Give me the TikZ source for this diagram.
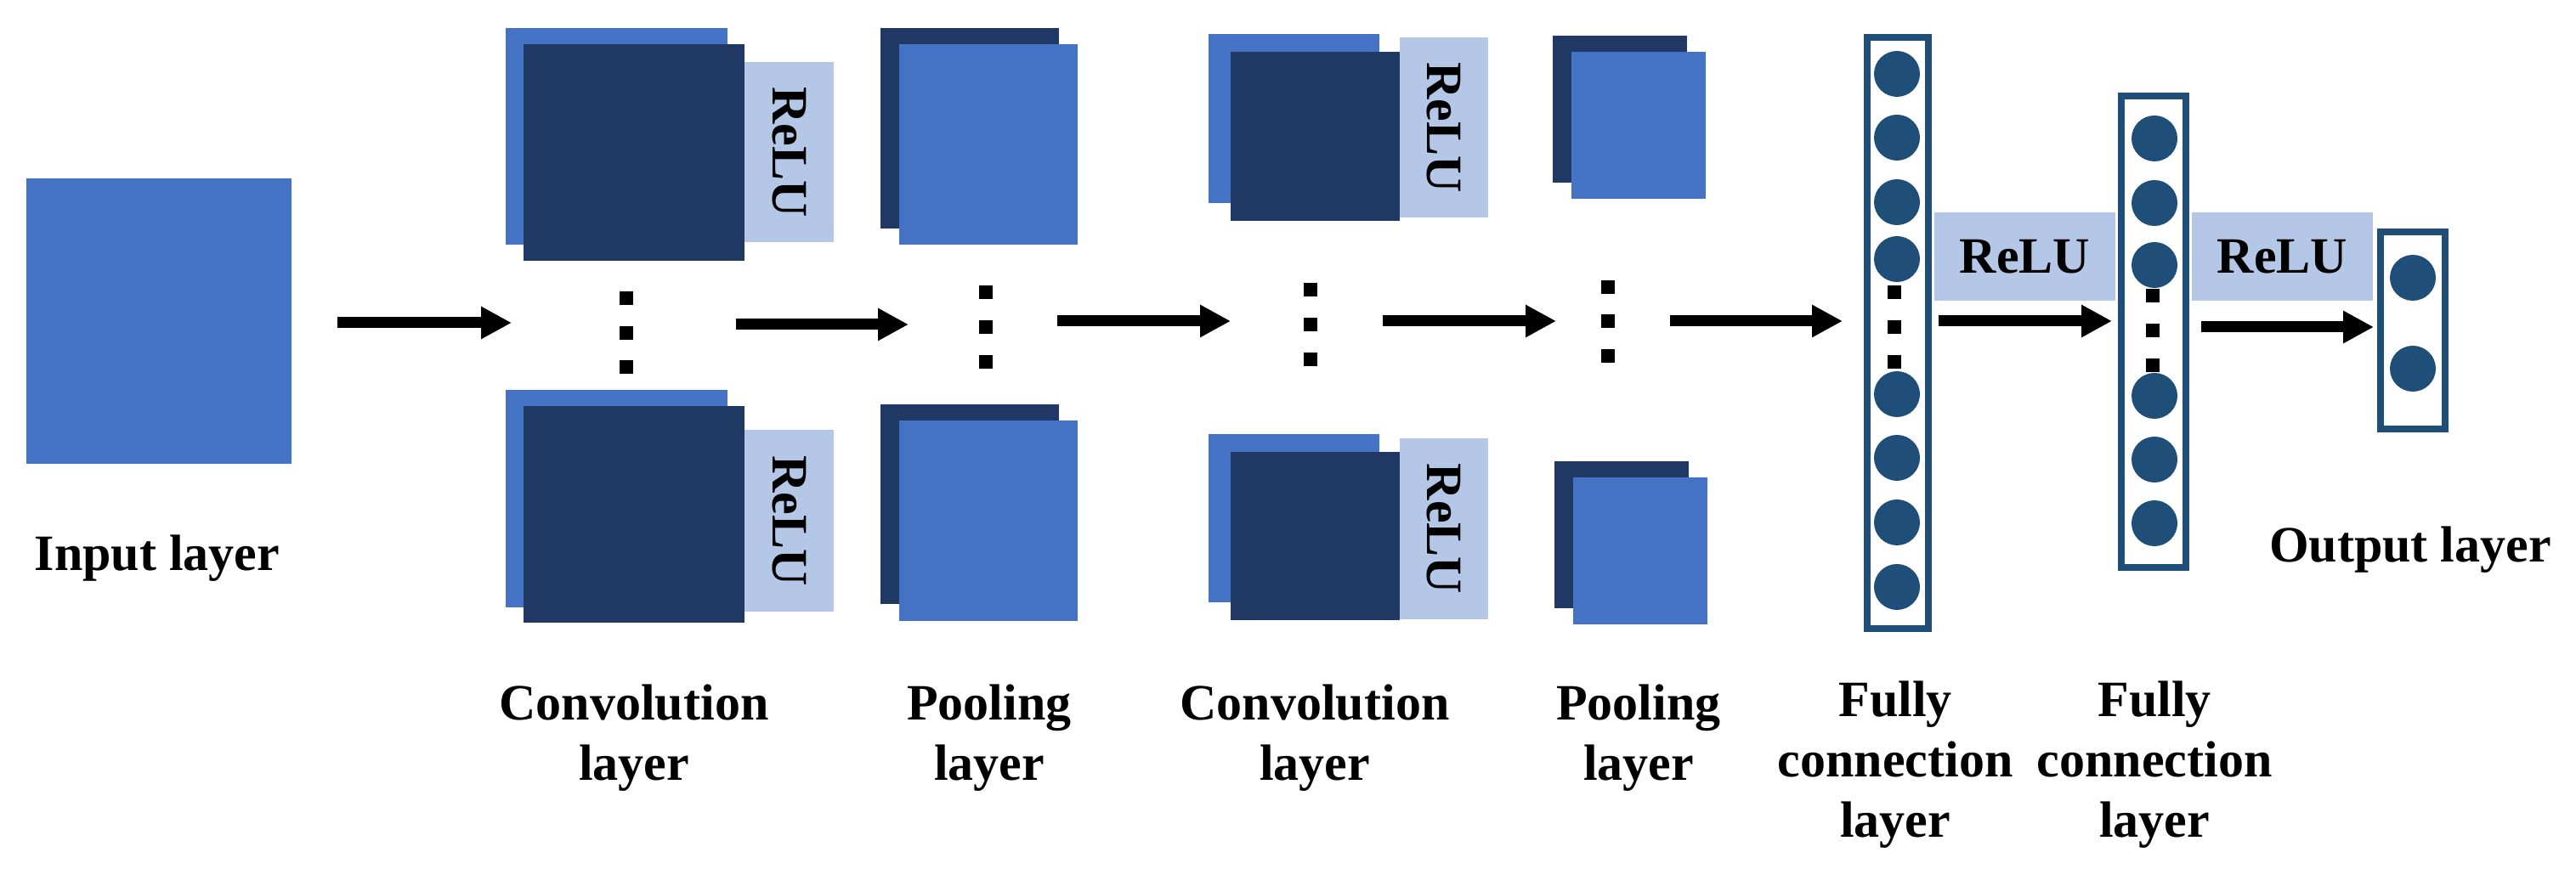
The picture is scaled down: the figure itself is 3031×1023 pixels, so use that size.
\documentclass[tikz,border=0pt]{standalone}
\usepackage{fontspec}
\setmainfont{Liberation Serif}
\usetikzlibrary{arrows.meta}
\definecolor{lb}{HTML}{4472C4}
\definecolor{db}{HTML}{203864}
\definecolor{rl}{HTML}{B4C7E7}
\definecolor{cc}{HTML}{1F4E79}
\newcommand\rect[6]{\node[#2, minimum width={(#5-#3)*0.25pt}, minimum height={(#6-#4)*0.25pt}] (#1) at ({(#3+#5)/2},{(#4+#6)/2}) {};}
\begin{document}
\begin{tikzpicture}[x=0.25pt,y=-0.25pt,
  box/.style={inner sep=0pt, outer sep=0pt, draw=none},
  L/.style={box, fill=lb}, D/.style={box, fill=db}, R/.style={box, fill=rl},
  fc/.style={inner sep=0pt, outer sep=0pt, draw=cc, line width=2pt, fill=white},
  neu/.style={circle, fill=cc, inner sep=0pt, minimum size=13.5pt},
  dot/.style={fill=black, inner sep=0pt, minimum size=4pt},
  arr/.style={line width=3.25pt, -{Triangle[length=9pt,width=9pt]}},
  lab/.style={font=\bfseries\fontsize{15}{17.75}\selectfont, align=center, text depth=0pt},
  rtxt/.style={font=\bfseries\fontsize{15}{18}\selectfont}]
\useasboundingbox (0,0) rectangle (3031,1023);
% input
\rect{in}{L}{31}{210}{343}{546}
% conv1
\rect{c1tb}{L}{595}{33}{856}{288}
\rect{c1tf}{D}{616}{52}{876}{307}
\rect{c1tr}{R}{876}{73}{981}{285}
\rect{c1bb}{L}{595}{459}{856}{715}
\rect{c1bf}{D}{616}{478}{876}{733}
\rect{c1br}{R}{876}{506}{981}{720}
\node[rtxt, rotate=-90] at (c1tr) {ReLU};
\node[rtxt, rotate=-90] at (c1br) {ReLU};
\node[dot] (d1a) at (737,351) {}; \node[dot] (d1b) at (737,392) {}; \node[dot] (d1c) at (737,432) {};
% pool1
\rect{p1tb}{D}{1036}{33}{1246}{269}
\rect{p1tf}{L}{1058}{52}{1268}{288}
\rect{p1bb}{D}{1036}{476}{1246}{711}
\rect{p1bf}{L}{1058}{495}{1268}{731}
\node[dot] (d2a) at (1160,344) {}; \node[dot] (d2b) at (1160,385) {}; \node[dot] (d2c) at (1160,426) {};
% conv2
\rect{c2tb}{L}{1422}{40}{1623}{239}
\rect{c2tf}{D}{1448}{61}{1647}{260}
\rect{c2tr}{R}{1647}{44}{1751}{256}
\rect{c2bb}{L}{1422}{511}{1623}{709}
\rect{c2bf}{D}{1448}{532}{1647}{730}
\rect{c2br}{R}{1647}{516}{1751}{729}
\node[rtxt, rotate=-90] at (c2tr) {ReLU};
\node[rtxt, rotate=-90] at (c2br) {ReLU};
\node[dot] (d3a) at (1542,341) {}; \node[dot] (d3b) at (1542,382) {}; \node[dot] (d3c) at (1542,423) {};
% pool2
\rect{p2tb}{D}{1827}{42}{1985}{215}
\rect{p2tf}{L}{1849}{61}{2007}{234}
\rect{p2bb}{D}{1829}{543}{1987}{716}
\rect{p2bf}{L}{1851}{562}{2009}{735}
\node[dot] (d4a) at (1892,338) {}; \node[dot] (d4b) at (1892,378) {}; \node[dot] (d4c) at (1892,419) {};
% FC1
\rect{fc1}{fc}{2197}{44}{2269}{740}
\foreach \y [count=\i] in {87,162,238,305,464,539,615,691} \node[neu] (n1\i) at (2232,\y) {};
\node[dot] (d5a) at (2229,344) {}; \node[dot] (d5b) at (2229,385) {}; \node[dot] (d5c) at (2229,426) {};
\rect{r1}{R}{2276}{250}{2489}{354}
\node[rtxt] at (r1) {ReLU};
% FC2
\rect{fc2}{fc}{2496}{113}{2572}{668}
\foreach \y [count=\i] in {163,239,312,466,541,616} \node[neu] (n2\i) at (2535,\y) {};
\node[dot] (d6a) at (2533,348) {}; \node[dot] (d6b) at (2533,389) {}; \node[dot] (d6c) at (2533,430) {};
\rect{r2}{R}{2579}{250}{2792}{354}
\node[rtxt] at (r2) {ReLU};
% output
\rect{out}{fc}{2801}{273}{2877}{505}
\node[neu] (o1) at (2839,327) {}; \node[neu] (o2) at (2839,434) {};
% arrows
\coordinate (a1s) at (397,380); \coordinate (a1e) at (602,380);
\coordinate (a2s) at (866,382); \coordinate (a2e) at (1069,382);
\coordinate (a3s) at (1244,378); \coordinate (a3e) at (1448,378);
\coordinate (a4s) at (1627,378); \coordinate (a4e) at (1831,378);
\coordinate (a5s) at (1965,378); \coordinate (a5e) at (2168,378);
\coordinate (a6s) at (2281,378); \coordinate (a6e) at (2485,378);
\coordinate (a7s) at (2590,385); \coordinate (a7e) at (2793,385);
\foreach \k in {1,...,7} \draw[arr] (a\k s) -- (a\k e);
% labels
\node[lab, anchor=base] at (185,672) {Input layer};
\node[lab, anchor=base] at (2836,662) {Output layer};
\node[lab, anchor=base] at (746,919) {Convolution\\layer};
\node[lab, anchor=base] at (1164,919) {Pooling\\layer};
\node[lab, anchor=base] at (1547,919) {Convolution\\layer};
\node[lab, anchor=base] at (1928,919) {Pooling\\layer};
\node[lab, anchor=base] at (2230,986) {Fully\\connection\\layer};
\node[lab, anchor=base] at (2535,986) {Fully\\connection\\layer};
\end{tikzpicture}
\end{document}
